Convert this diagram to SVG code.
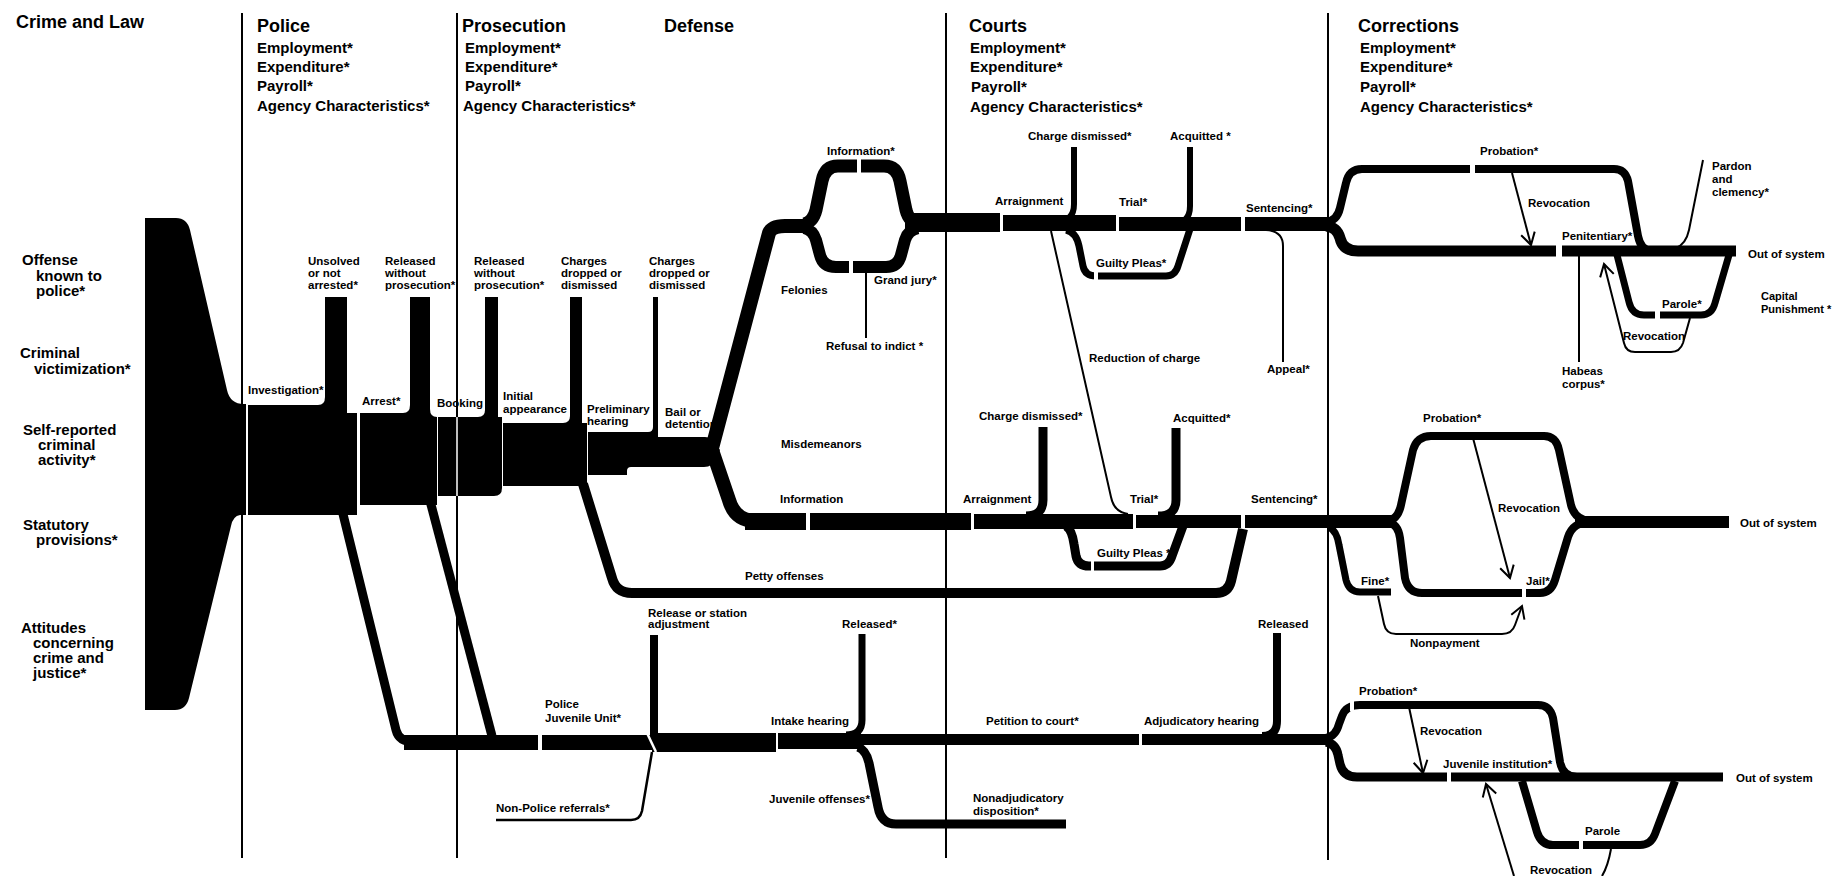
<svg xmlns="http://www.w3.org/2000/svg" width="1834" height="876" viewBox="0 0 1834 876">
<style>
text{font-family:"Liberation Sans",Arial,sans-serif;fill:#000;font-weight:bold}
.t{font-size:18px}
.h{font-size:15px}
.sd{font-size:15px}
.l{font-size:11.5px}
.dv{stroke:#000;stroke-width:2}
.f{fill:#000}
.s{fill:none;stroke:#000;stroke-linecap:butt;stroke-linejoin:round}
.g{fill:#fff}
.w2{stroke-width:2}.w6{stroke-width:6}.w7{stroke-width:7}.w8{stroke-width:8}.w9{stroke-width:9}.w10{stroke-width:10}.w11{stroke-width:11}.w12{stroke-width:12}.w13{stroke-width:13}.w14{stroke-width:14}
.ar{marker-end:url(#v)}
</style>
<defs>
<marker id="v" viewBox="-14 -9 16 18" markerWidth="16" markerHeight="18" refX="0" refY="0" orient="auto" markerUnits="userSpaceOnUse">
<path d="M-12,-7 L0,0 L-12,7" fill="none" stroke="#000" stroke-width="2"/>
</marker>
</defs>
<rect width="1834" height="876" fill="#fff"/>

<g id="dividers">
<line class="dv" x1="242" y1="13" x2="242" y2="858"/>
<line class="dv" x1="457" y1="13" x2="457" y2="858"/>
<line class="dv" x1="946" y1="13" x2="946" y2="858"/>
<line class="dv" x1="1328" y1="13" x2="1328" y2="860"/>
</g>

<g id="headers">
<text class="t" x="16" y="28">Crime and Law</text>
<g id="h-police"><text class="t" x="257" y="32">Police</text>
<text class="h" x="257" y="53">Employment*</text><text class="h" x="257" y="72">Expenditure*</text><text class="h" x="257" y="91">Payroll*</text><text class="h" x="257" y="111">Agency Characteristics*</text></g>
<g id="h-prosecution"><text class="t" x="462" y="32">Prosecution</text>
<text class="h" x="465" y="53">Employment*</text><text class="h" x="465" y="72">Expenditure*</text><text class="h" x="465" y="91">Payroll*</text><text class="h" x="463" y="111">Agency Characteristics*</text></g>
<g id="h-defense"><text class="t" x="664" y="32">Defense</text></g>
<g id="h-courts"><text class="t" x="969" y="32">Courts</text>
<text class="h" x="970" y="53">Employment*</text><text class="h" x="970" y="72">Expenditure*</text><text class="h" x="971" y="92">Payroll*</text><text class="h" x="970" y="112">Agency Characteristics*</text></g>
<g id="h-corrections"><text class="t" x="1358" y="32">Corrections</text>
<text class="h" x="1360" y="53">Employment*</text><text class="h" x="1360" y="72">Expenditure*</text><text class="h" x="1360" y="92">Payroll*</text><text class="h" x="1360" y="112">Agency Characteristics*</text></g>
</g>

<g id="inputs">
<g id="in-offense"><text class="sd" x="22" y="265">Offense</text><text class="sd" x="36" y="281">known to</text><text class="sd" x="36" y="296">police*</text></g>
<g id="in-victim"><text class="sd" x="20" y="358">Criminal</text><text class="sd" x="34" y="374">victimization*</text></g>
<g id="in-selfreport"><text class="sd" x="23" y="435">Self-reported</text><text class="sd" x="38" y="450">criminal</text><text class="sd" x="38" y="465">activity*</text></g>
<g id="in-statutory"><text class="sd" x="23" y="530">Statutory</text><text class="sd" x="36" y="545">provisions*</text></g>
<g id="in-attitudes"><text class="sd" x="21" y="633">Attitudes</text><text class="sd" x="33" y="648">concerning</text><text class="sd" x="33" y="663">crime and</text><text class="sd" x="33" y="678">justice*</text></g>
</g>

<g id="connectors">
<path class="f" d="M145,218 L176,218 Q187,218 190,230 L227,390 Q230,404 244,404 L246,404 L246,515 L240,515 Q233,516 231,526 L189,698 Q186,710 175,710 L145,710 Z"/>
<path class="f" d="M248,405 L318,405 Q325,405 325,397 L325,297 L347,297 L347,413 L357,413 L357,515 L248,515 Z"/>
<path class="f" d="M360,413 L403,413 Q410,413 410,405 L410,297 L430,297 L430,409 Q430,417 437,417 L437,505 L360,505 Z"/>
<path class="f" d="M438,417 L478,417 Q485,417 485,410 L485,297 L498,297 L498,417 L502,417 L502,488 Q502,496 494,496 L438,496 Z"/>
<path class="f" d="M503,423 L563,423 Q570,423 570,416 L570,297 L582,297 L582,423 L587,423 L587,486 L503,486 Z"/>
<path class="f" d="M588,432 L648,432 Q653,432 653,427 L653,297 L658,297 L658,437 L705,437 Q713,437 716,445 L720,450 L716,457 Q713,467 704,467 L631,467 Q627,467 627,471 L627,475 L588,475 Z"/>
<line x1="457" y1="417" x2="457" y2="496" stroke="#fff" stroke-width="1.5"/>

<path class="s w14" d="M711,452 L769,233 Q772,226 785,226 L812,226"/>
<path class="s w13" d="M804,224 Q813,222 816,210 L822,181 Q825,166 838,166 L884,166 Q897,166 900,181 L906,210 Q909,222 918,222"/>
<path class="s w12" d="M804,228 Q813,230 816,240 L820,255 Q823,267 836,267 L886,267 Q898,267 901,255 L905,240 Q908,230 918,228"/>
<rect class="g" x="857" y="157" width="4" height="18"/>
<rect class="g" x="849" y="259" width="4" height="16"/>
<line class="s w2" x1="866" y1="273" x2="866" y2="338"/>
<rect class="f" x="905" y="213" width="95" height="19"/>
<rect class="f" x="1003" y="215" width="113" height="16"/>
<rect class="f" x="1119" y="217" width="122" height="14"/>
<rect class="f" x="1245" y="217" width="89" height="14"/>
<path class="s w6" d="M1056,222 Q1074,222 1074,204 L1074,147"/>
<path class="s w6" d="M1172,224 Q1190,224 1190,206 L1190,147"/>
<path class="s w7" d="M1066,230 Q1076,232 1079,246 L1083,266 Q1085,276 1096,276 L1166,276 Q1175,276 1178,266 L1190,229"/>
<rect class="g" x="1094" y="271" width="4" height="10"/>
<path class="s w2" d="M1051,231 L1111,497 Q1114,512 1128,514"/>
<path class="s w2" d="M1266,230 Q1283,231 1283,246 L1283,362"/>
<path class="s w8" d="M1326,222 Q1337,221 1340,208 L1346,183 Q1349,169 1362,169 L1614,169 Q1625,169 1628,181 L1638,236 Q1641,251 1652,251"/>
<path class="s w11" d="M1326,226 Q1337,227 1340,238 Q1343,251 1358,251 L1736,251"/>
<rect class="g" x="1470" y="163" width="5" height="12"/>
<rect class="g" x="1556" y="244" width="6" height="14"/>
<path class="s w2 ar" d="M1512,173 L1531,245"/>
<path class="s w2" d="M1703,160 L1689,230 Q1686,244 1676,248"/>
<path class="s w7" d="M1617,255 L1629,302 Q1632,315 1644,315 L1701,315 Q1712,315 1715,303 L1729,255"/>
<rect class="g" x="1655" y="310" width="5" height="10"/>
<path class="s w2 ar" d="M1690,318 L1683,343 Q1680,352 1671,352 L1635,352 Q1626,352 1624,343 L1604,264"/>
<line class="s w2" x1="1579" y1="256" x2="1579" y2="362"/>

<path class="s w14" d="M712,450 L729,500 Q735,521 756,521"/>
<rect class="f" x="745" y="513" width="61" height="17"/>
<rect class="f" x="810" y="513" width="161" height="17"/>
<rect class="f" x="974" y="514" width="159" height="15"/>
<rect class="f" x="1136" y="515" width="105" height="13"/>
<rect class="f" x="1245" y="515" width="147" height="13"/>
<path class="s w9" d="M1026,516 Q1043,516 1043,500 L1043,427"/>
<path class="s w9" d="M1158,516 Q1176,516 1176,500 L1176,428"/>
<path class="s w9" d="M1066,526 Q1072,530 1074,544 L1076,556 Q1078,566 1089,566 L1160,566 Q1169,566 1172,556 L1183,526"/>
<rect class="g" x="1091" y="560" width="3" height="12"/>
<path class="s w10" d="M583,484 L612,578 Q616,593 632,593 L1216,593 Q1228,593 1231,581 L1243,529"/>
<path class="s w7" d="M1329,527 Q1337,531 1339,545 L1346,580 Q1349,592 1360,592 L1391,592"/>
<path class="s w8" d="M1388,521 Q1398,519 1401,505 L1413,450 Q1417,436 1431,436 L1544,436 Q1556,436 1559,450 L1571,505 Q1575,520 1590,521"/>
<path class="s w8" d="M1388,522 Q1398,524 1400,538 L1405,578 Q1408,593 1422,593 L1540,593 Q1551,593 1555,580 L1568,537 Q1573,522 1590,522"/>
<rect class="g" x="1522" y="587" width="4" height="12"/>
<rect class="f" x="1575" y="516" width="154" height="12"/>
<path class="s w2 ar" d="M1473,438 L1510,578"/>
<path class="s w2 ar" d="M1378,596 L1384,624 Q1386,634 1396,634 L1502,634 Q1512,634 1515,625 L1522,606"/>

<path class="s w9" d="M342,510 L396,730 Q399,742 414,742"/>
<path class="s w9" d="M429,497 L492,736"/>
<rect class="f" x="404" y="735" width="134" height="15"/>
<rect class="f" x="542" y="735" width="110" height="15"/>
<rect class="f" x="652" y="733" width="124" height="19"/>
<rect class="f" x="778" y="733" width="83" height="16"/>
<rect class="f" x="861" y="734" width="278" height="11"/>
<rect class="f" x="1142" y="734" width="190" height="11"/>
<path class="s w8" d="M654,740 L654,635"/>
<line x1="647" y1="733" x2="656" y2="752" stroke="#fff" stroke-width="2.5"/>
<path class="s" style="stroke-width:2.5" d="M496,820 L631,820 Q640,820 642,811 L652,752"/>
<path class="s w7" d="M846,735 Q862,735 862,720 L862,634"/>
<path class="s w9" d="M858,747 Q866,750 869,763 L878,807 Q881,824 896,824 L1066,824"/>
<path class="s w8" d="M1262,736 Q1277,736 1277,721 L1277,633"/>
<path class="s w8" d="M1326,738 Q1336,736 1339,724 L1342,716 Q1346,705 1360,705 L1538,705 Q1550,705 1553,718 L1560,762 Q1563,777 1577,777"/>
<path class="s w9" d="M1326,742 Q1336,744 1338,755 L1340,764 Q1343,777 1357,777 L1723,777"/>
<rect class="g" x="1350" y="700" width="4" height="11"/>
<rect class="g" x="1447" y="771" width="4" height="13"/>
<path class="s w2 ar" d="M1409,707 L1423,773"/>
<path class="s w8" d="M1522,781 L1537,832 Q1541,845 1553,845 L1640,845 Q1651,845 1655,834 L1675,781"/>
<rect class="g" x="1579" y="840" width="4" height="10"/>
<path class="s w2 ar" d="M1514,876 L1486,784"/>
<path class="s w2" d="M1611,849 Q1608,866 1602,876"/>
</g>

<g id="stages">
<g id="n-unsolved"><text class="l" x="308" y="265">Unsolved</text><text class="l" x="308" y="277">or not</text><text class="l" x="308" y="289">arrested*</text></g>
<g id="n-released1"><text class="l" x="385" y="265">Released</text><text class="l" x="385" y="277">without</text><text class="l" x="385" y="289">prosecution*</text></g>
<g id="n-released2"><text class="l" x="474" y="265">Released</text><text class="l" x="474" y="277">without</text><text class="l" x="474" y="289">prosecution*</text></g>
<g id="n-charges1"><text class="l" x="561" y="265">Charges</text><text class="l" x="561" y="277">dropped or</text><text class="l" x="561" y="289">dismissed</text></g>
<g id="n-charges2"><text class="l" x="649" y="265">Charges</text><text class="l" x="649" y="277">dropped or</text><text class="l" x="649" y="289">dismissed</text></g>
<g id="n-investigation"><text class="l" x="248" y="394">Investigation*</text></g>
<g id="n-arrest"><text class="l" x="362" y="405">Arrest*</text></g>
<g id="n-booking"><text class="l" x="437" y="407">Booking</text></g>
<g id="n-initial"><text class="l" x="503" y="400">Initial</text><text class="l" x="503" y="413">appearance</text></g>
<g id="n-prelim"><text class="l" x="587" y="413">Preliminary</text><text class="l" x="587" y="425">hearing</text></g>
<g id="n-bail"><text class="l" x="665" y="416">Bail or</text><text class="l" x="665" y="428">detention*</text></g>
<g id="n-information1"><text class="l" x="827" y="155">Information*</text></g>
<g id="n-grandjury"><text class="l" x="874" y="284">Grand jury*</text></g>
<g id="n-felonies"><text class="l" x="781" y="294">Felonies</text></g>
<g id="n-refusal"><text class="l" x="826" y="350">Refusal to indict *</text></g>
<g id="n-chargedis1"><text class="l" x="1028" y="140">Charge dismissed*</text></g>
<g id="n-acquitted1"><text class="l" x="1170" y="140">Acquitted *</text></g>
<g id="n-arraign1"><text class="l" x="995" y="205">Arraignment</text></g>
<g id="n-trial1"><text class="l" x="1119" y="206">Trial*</text></g>
<g id="n-sentencing1"><text class="l" x="1246" y="212">Sentencing*</text></g>
<g id="n-guilty1"><text class="l" x="1096" y="267">Guilty Pleas*</text></g>
<g id="n-reduction"><text class="l" x="1089" y="362">Reduction of charge</text></g>
<g id="n-appeal"><text class="l" x="1267" y="373">Appeal*</text></g>
<g id="n-probation1"><text class="l" x="1480" y="155">Probation*</text></g>
<g id="n-revocation1"><text class="l" x="1528" y="207">Revocation</text></g>
<g id="n-penitentiary"><text class="l" x="1562" y="240">Penitentiary*</text></g>
<g id="n-pardon"><text class="l" x="1712" y="170">Pardon</text><text class="l" x="1712" y="183">and</text><text class="l" x="1712" y="196">clemency*</text></g>
<g id="n-out1"><text class="l" x="1748" y="258">Out of system</text></g>
<g id="n-capital"><text class="l" x="1761" y="300" style="font-size:11px">Capital</text><text class="l" x="1761" y="313" style="font-size:11px">Punishment *</text></g>
<g id="n-parole1"><text class="l" x="1662" y="308">Parole*</text></g>
<g id="n-revocation2"><text class="l" x="1623" y="340">Revocation</text></g>
<g id="n-habeas"><text class="l" x="1562" y="375">Habeas</text><text class="l" x="1562" y="388">corpus*</text></g>
<g id="n-misdemeanors"><text class="l" x="781" y="448">Misdemeanors</text></g>
<g id="n-information2"><text class="l" x="780" y="503">Information</text></g>
<g id="n-arraign2"><text class="l" x="963" y="503">Arraignment</text></g>
<g id="n-chargedis2"><text class="l" x="979" y="420">Charge dismissed*</text></g>
<g id="n-acquitted2"><text class="l" x="1173" y="422">Acquitted*</text></g>
<g id="n-trial2"><text class="l" x="1130" y="503">Trial*</text></g>
<g id="n-sentencing2"><text class="l" x="1251" y="503">Sentencing*</text></g>
<g id="n-guilty2"><text class="l" x="1097" y="557">Guilty Pleas *</text></g>
<g id="n-petty"><text class="l" x="745" y="580">Petty offenses</text></g>
<g id="n-probation2"><text class="l" x="1423" y="422">Probation*</text></g>
<g id="n-revocation3"><text class="l" x="1498" y="512">Revocation</text></g>
<g id="n-fine"><text class="l" x="1361" y="585">Fine*</text></g>
<g id="n-jail"><text class="l" x="1526" y="585">Jail*</text></g>
<g id="n-nonpayment"><text class="l" x="1410" y="647">Nonpayment</text></g>
<g id="n-out2"><text class="l" x="1740" y="527">Out of system</text></g>
<g id="n-release-station"><text class="l" x="648" y="617">Release or station</text><text class="l" x="648" y="628">adjustment</text></g>
<g id="n-released3"><text class="l" x="842" y="628">Released*</text></g>
<g id="n-juvunit"><text class="l" x="545" y="708">Police</text><text class="l" x="545" y="722">Juvenile Unit*</text></g>
<g id="n-intake"><text class="l" x="771" y="725">Intake hearing</text></g>
<g id="n-petition"><text class="l" x="986" y="725">Petition to court*</text></g>
<g id="n-adjudicatory"><text class="l" x="1144" y="725">Adjudicatory hearing</text></g>
<g id="n-released4"><text class="l" x="1258" y="628">Released</text></g>
<g id="n-juvoffenses"><text class="l" x="769" y="803">Juvenile offenses*</text></g>
<g id="n-nonadj"><text class="l" x="973" y="802">Nonadjudicatory</text><text class="l" x="973" y="815">disposition*</text></g>
<g id="n-nonpolice"><text class="l" x="496" y="812">Non-Police referrals*</text></g>
<g id="n-probation3"><text class="l" x="1359" y="695">Probation*</text></g>
<g id="n-revocation4"><text class="l" x="1420" y="735">Revocation</text></g>
<g id="n-juvinst"><text class="l" x="1443" y="768">Juvenile institution*</text></g>
<g id="n-out3"><text class="l" x="1736" y="782">Out of system</text></g>
<g id="n-parole2"><text class="l" x="1585" y="835">Parole</text></g>
<g id="n-revocation5"><text class="l" x="1530" y="874">Revocation</text></g>
</g>
</svg>
